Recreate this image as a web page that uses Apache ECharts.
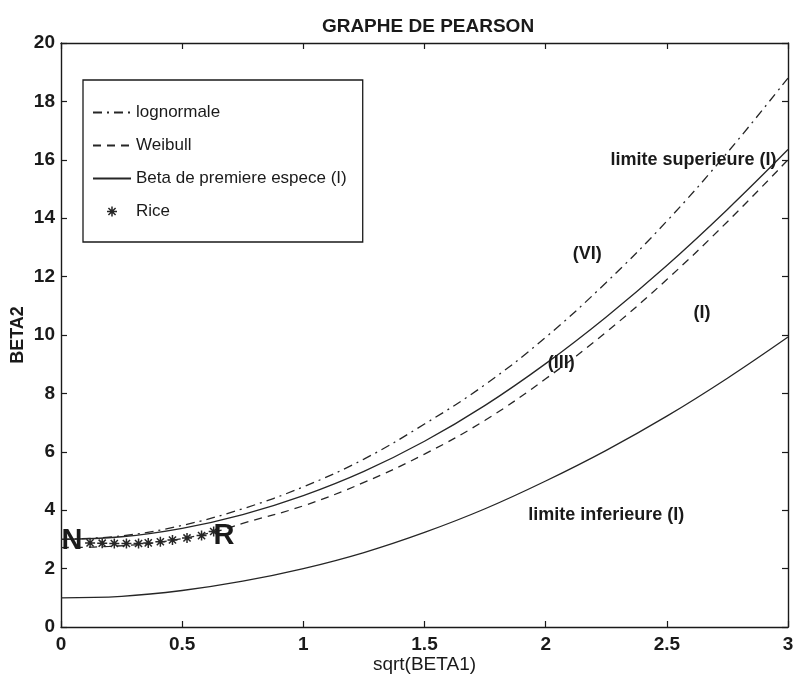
<!DOCTYPE html>
<html>
<head>
<meta charset="utf-8">
<title>Graphe de Pearson</title>
<script src="https://cdn.jsdelivr.net/npm/echarts@6/dist/echarts.min.js"></script>
<style>
  html, body { margin: 0; padding: 0; background: #ffffff; }
  #chart { width: 793px; height: 678px; }
</style>
</head>
<body>
<div id="chart"></div>
<script>
// Abscissa sqrt(beta1) shared by the lognormal and the two type I limits
const sqrtBeta1 = [0, 0.25, 0.5, 0.75, 1.0, 1.25, 1.5, 1.75, 2.0, 2.25, 2.5, 2.75, 3.0];
const lognormaleBeta2 = [3.00, 3.12, 3.48, 4.05, 4.80, 5.75, 6.95, 8.30, 9.92, 11.80, 13.90, 16.25, 18.80];
const limiteSupBeta2 = [3.00, 3.09, 3.38, 3.85, 4.50, 5.33, 6.36, 7.59, 9.02, 10.62, 12.38, 14.30, 16.35];
const limiteInfBeta2 = [1.00, 1.05, 1.25, 1.57, 2.00, 2.55, 3.24, 4.05, 5.00, 6.05, 7.22, 8.52, 9.93];

// Weibull curve
const weibullX = [0, 0.2, 0.4, 0.63, 0.75, 1.0, 1.25, 1.5, 1.75, 2.0, 2.25, 2.5, 2.75, 3.0];
const weibullBeta2 = [2.72, 2.76, 2.90, 3.25, 3.55, 4.15, 4.95, 5.92, 7.08, 8.50, 10.10, 11.90, 13.88, 16.00];

// Rice points, from the normal (N) towards the Rayleigh (R) point
const riceX = [0.12, 0.17, 0.22, 0.27, 0.32, 0.36, 0.41, 0.46, 0.52, 0.58, 0.63];
const riceBeta2 = [2.88, 2.87, 2.86, 2.86, 2.86, 2.88, 2.92, 2.98, 3.05, 3.13, 3.27];

// Region and point annotations (data coordinates)
const annotationText = ['N', 'R', '(VI)', '(III)', '(I)', 'limite superieure (I)', 'limite inferieure (I)'];
const annotationX = [0.045, 0.673, 2.172, 2.064, 2.645, 2.61, 2.25];
const annotationY = [2.95, 3.10, 12.76, 9.03, 10.74, 15.98, 3.84];
const annotationBig = [true, true, false, false, false, false, false];

const legendNames = ['lognormale', 'Weibull', 'Beta de premiere espece (I)', 'Rice'];

const FONT = '"Liberation Sans", Arial, Helvetica, sans-serif';
const INK = '#1a1a1a';
const LINE = '#262626';

const pairs = (xs, ys) => xs.map((x, i) => [x, ys[i]]);

// Asterisk marker: horizontal, vertical and two diagonal bars, all wound the same way
const ASTERISK = 'path://M0 8.5H20V11.5H0Z M8.5 0H11.5V20H8.5Z M3.9 1.8L18.2 16.1L16.1 18.2L1.8 3.9Z M16.1 1.8L18.2 3.9L3.9 18.2L1.8 16.1Z';

const annotations = annotationText.map((t, i) => ({
  name: t,
  value: [annotationX[i], annotationY[i]],
  label: { fontSize: annotationBig[i] ? 29 : 18 }
}));

const boxAxisX = {
  type: 'value', min: 0, max: 3, interval: 0.5,
  axisLine: { show: true, onZero: false, lineStyle: { color: INK, width: 1.4 } },
  axisTick: { show: true, inside: true, length: 6, lineStyle: { color: INK, width: 1.2 } },
  splitLine: { show: false }
};
const boxAxisY = {
  type: 'value', min: 0, max: 20, interval: 2,
  axisLine: { show: true, onZero: false, lineStyle: { color: INK, width: 1.4 } },
  axisTick: { show: true, inside: true, length: 6, lineStyle: { color: INK, width: 1.2 } },
  splitLine: { show: false }
};

const chart = echarts.init(document.getElementById('chart'), null, { renderer: 'canvas' });

chart.setOption({
  animation: false,
  backgroundColor: '#ffffff',
  textStyle: { fontFamily: FONT, color: INK },
  title: {
    text: 'GRAPHE DE PEARSON',
    left: 423, top: 12, textAlign: 'center',
    textStyle: { fontFamily: FONT, fontSize: 19, fontWeight: 'bold', color: INK }
  },
  // fixed plot box; axis labels and names sit outside it
  grid: { left: 61, right: 5, top: 43, bottom: 51, containLabel: false, outerBoundsMode: 'none' },
  legend: {
    data: legendNames.map(n => n === 'Rice' ? { name: n, itemStyle: { opacity: 1 } } : { name: n }),
    orient: 'vertical',
    left: 83, top: 80,
    itemWidth: 38, itemHeight: 10,
    itemGap: 16,
    padding: [24, 16, 22, 9],
    backgroundColor: '#ffffff',
    borderColor: INK, borderWidth: 1.3, borderRadius: 0,
    selectedMode: false,
    // line icons only: the point marker of line series is hidden
    itemStyle: { opacity: 0 },
    textStyle: { fontFamily: FONT, fontSize: 17, color: INK }
  },
  xAxis: [
    Object.assign({}, boxAxisX, {
      position: 'bottom',
      name: 'sqrt(BETA1)', nameLocation: 'middle', nameGap: 28, nameMoveOverlap: false,
      nameTextStyle: { fontFamily: FONT, fontSize: 19, color: INK },
      axisLabel: { show: true, margin: 8, fontFamily: FONT, fontSize: 19, fontWeight: 'bold', color: INK }
    }),
    Object.assign({}, boxAxisX, { position: 'top', axisLabel: { show: false } })
  ],
  yAxis: [
    Object.assign({}, boxAxisY, {
      position: 'left',
      name: 'BETA2', nameLocation: 'middle', nameGap: 34, nameMoveOverlap: false,
      nameTextStyle: { fontFamily: FONT, fontSize: 18, fontWeight: 'bold', color: INK },
      axisLabel: { show: true, margin: 6, fontFamily: FONT, fontSize: 19, fontWeight: 'bold', color: INK }
    }),
    Object.assign({}, boxAxisY, { position: 'right', axisLabel: { show: false } })
  ],
  series: [
    {
      name: 'lognormale', type: 'line', smooth: 0.4, symbol: 'none',
      data: pairs(sqrtBeta1, lognormaleBeta2),
      lineStyle: { color: LINE, width: 1.3, type: [9, 5, 2, 5] },
      itemStyle: { color: LINE }
    },
    {
      name: 'Weibull', type: 'line', smooth: 0.4, symbol: 'none',
      data: pairs(weibullX, weibullBeta2),
      lineStyle: { color: LINE, width: 1.3, type: [8, 6] },
      itemStyle: { color: LINE }
    },
    {
      name: 'Beta de premiere espece (I)', type: 'line', smooth: 0.4, symbol: 'none',
      data: pairs(sqrtBeta1, limiteSupBeta2),
      lineStyle: { color: LINE, width: 1.3, type: 'solid' },
      itemStyle: { color: LINE }
    },
    {
      name: 'Beta de premiere espece (I)', type: 'line', smooth: 0.4, symbol: 'none',
      data: pairs(sqrtBeta1, limiteInfBeta2),
      lineStyle: { color: LINE, width: 1.3, type: 'solid' },
      itemStyle: { color: LINE }
    },
    {
      name: 'Rice', type: 'scatter', symbol: ASTERISK, symbolSize: 10, symbolKeepAspect: true,
      data: pairs(riceX, riceBeta2),
      itemStyle: { color: LINE, opacity: 1 }
    },
    {
      name: 'annotations', type: 'scatter', symbolSize: 0, silent: true, z: 5,
      itemStyle: { color: 'transparent', opacity: 1 },
      data: annotations,
      label: {
        show: true, position: 'inside', formatter: '{b}',
        fontFamily: FONT, fontWeight: 'bold', color: INK
      }
    }
  ]
});
</script>
</body>
</html>
